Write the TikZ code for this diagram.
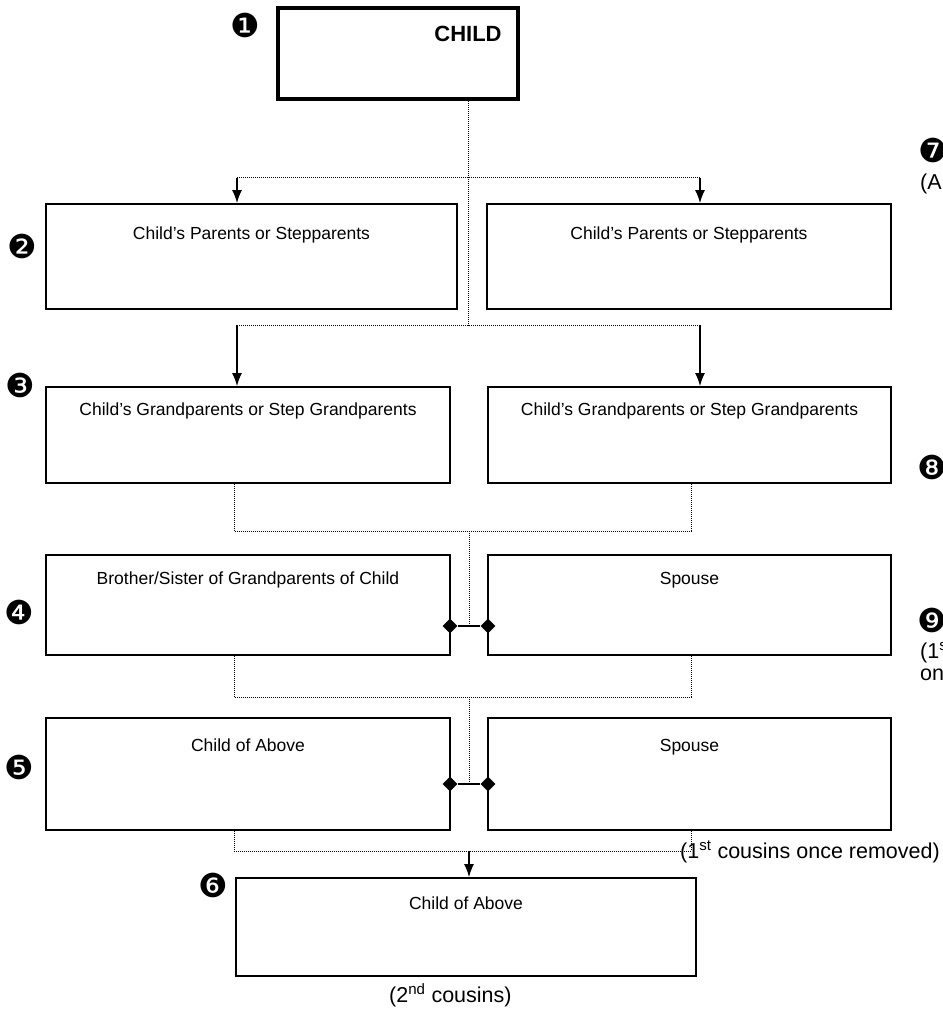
\documentclass[tikz,border=0pt]{standalone}
\usepackage{fontspec}
\setmainfont{Liberation Sans}
\newfontfamily\dingfont{DejaVu Sans}
\usetikzlibrary{arrows.meta,shapes.geometric}

\begin{document}
\begin{tikzpicture}[x=1pt,y=-1pt,
	box/.style={draw, line width=1.8pt, inner sep=0pt, anchor=base, font=\fontsize{17.5}{20}\selectfont},
	note/.style={inner sep=0pt, font=\fontsize{21.5}{24}\selectfont},
	numb/.style={inner sep=0pt, font=\dingfont\fontsize{33}{33}\selectfont},
	dots/.style={densely dotted, line width=1pt},
	arr/.style={-{Latex[length=13pt,width=10pt]}, line width=1.4pt},
	dmd/.style={diamond, fill=black, inner sep=0pt, minimum size=15pt}]

	\useasboundingbox (0,0) rectangle (942,1024);

	\node[box, line width=3.6pt, minimum width=240pt, text height=34pt, text depth=57pt] (child) at (398,42) {};
	\node[inner sep=0pt, anchor=base, font=\bfseries\fontsize{22}{24}\selectfont] (childlbl) at (468,42) {CHILD};

	\node[box, minimum width=411pt, text height=36pt, text depth=69pt] (par1) at (251.5,240) {Child’s Parents or Stepparents};
	\node[box, minimum width=404pt, text height=36pt, text depth=69pt] (par2) at (689,240) {Child’s Parents or Stepparents};
	\node[box, minimum width=404pt, text height=28pt, text depth=68pt] (gp1) at (248,415) {Child’s Grandparents or Step Grandparents};
	\node[box, minimum width=403pt, text height=28pt, text depth=68pt] (gp2) at (689.5,415) {Child’s Grandparents or Step Grandparents};
	\node[box, minimum width=404pt, text height=29pt, text depth=71pt] (sib) at (248,584) {Brother/Sister of Grandparents of Child};
	\node[box, minimum width=403pt, text height=29pt, text depth=71pt] (sp1) at (689.5,584) {Spouse};
	\node[box, minimum width=404pt, text height=33pt, text depth=79pt] (cou1) at (248,751) {Child of Above};
	\node[box, minimum width=403pt, text height=33pt, text depth=79pt] (sp2) at (689.5,751) {Spouse};
	\node[box, minimum width=460pt, text height=31pt, text depth=67pt] (cou2) at (466,909) {Child of Above};

	% numbers
	\node[numb] (n1) at (245,25) {❶};
	\node[numb] (n2) at (22,246) {❷};
	\node[numb] (n3) at (20,385) {❸};
	\node[numb] (n4) at (19,612) {❹};
	\node[numb] (n5) at (19,767) {❺};
	\node[numb] (n6) at (213,885) {❻};
	\node[numb] (n7) at (933,150) {❼};
	\node[numb] (n8) at (932,467) {❽};
	\node[numb] (n9) at (932,620) {❾};

	% notes
	\node[note, anchor=base west] (aun) at (920,190) {(A};
	\node[note, anchor=base west] (fst) at (920,658) {(1\textsuperscript{s}};
	\node[note, anchor=base west] (onc) at (920,680) {on};
	\node[note, anchor=base west] (rem) at (680,858) {(1\textsuperscript{st} cousins once removed)};
	\node[note, anchor=base west] (sec) at (389,1002) {(2\textsuperscript{nd} cousins)};

	% junctions
	\coordinate (j1) at (468,178);
	\coordinate (j1l) at (237,178);
	\coordinate (j1r) at (700,178);
	\coordinate (j2) at (468,325);
	\coordinate (j2l) at (237,325);
	\coordinate (j2r) at (700,325);
	\coordinate (b3l) at (234,531);
	\coordinate (b3) at (469,531);
	\coordinate (b3r) at (691,531);
	\coordinate (b4l) at (234,697);
	\coordinate (b4) at (469,697);
	\coordinate (b4r) at (691,697);
	\coordinate (b5l) at (234,851);
	\coordinate (b5) at (469,851);
	\coordinate (b5r) at (691,851);
	\coordinate (m4) at (469,626);
	\coordinate (m5) at (469,784);

	\node[dmd] (d4l) at (450,626) {};
	\node[dmd] (d4r) at (488,626) {};
	\node[dmd] (d5l) at (450,784) {};
	\node[dmd] (d5r) at (488,784) {};

	\path[dots] (child.south -| j1) edge (j2);
	\path[dots] (j1l) edge (j1r);
	\path[dots] (j2l) edge (j2r);
	\path[arr] (j1l) edge (j1l |- par1.north);
	\path[arr] (j1r) edge (j1r |- par2.north);
	\path[arr] (j2l) edge (j2l |- gp1.north);
	\path[arr] (j2r) edge (j2r |- gp2.north);

	\draw[dots] (gp1.south -| b3l) -- (b3l) -- (b3r) -- (gp2.south -| b3r);
	\path[dots] (b3) edge (m4);
	\draw[dots] (sib.south -| b4l) -- (b4l) -- (b4r) -- (sp1.south -| b4r);
	\path[dots] (b4) edge (m5);
	\draw[dots] (cou1.south -| b5l) -- (b5l) -- (b5r) -- (sp2.south -| b5r);
	\path[arr] (b5) edge (b5 |- cou2.north);

	\path[line width=1.8pt] (d4l) edge (d4r);
	\path[line width=1.8pt] (d5l) edge (d5r);

\end{tikzpicture}
\end{document}
